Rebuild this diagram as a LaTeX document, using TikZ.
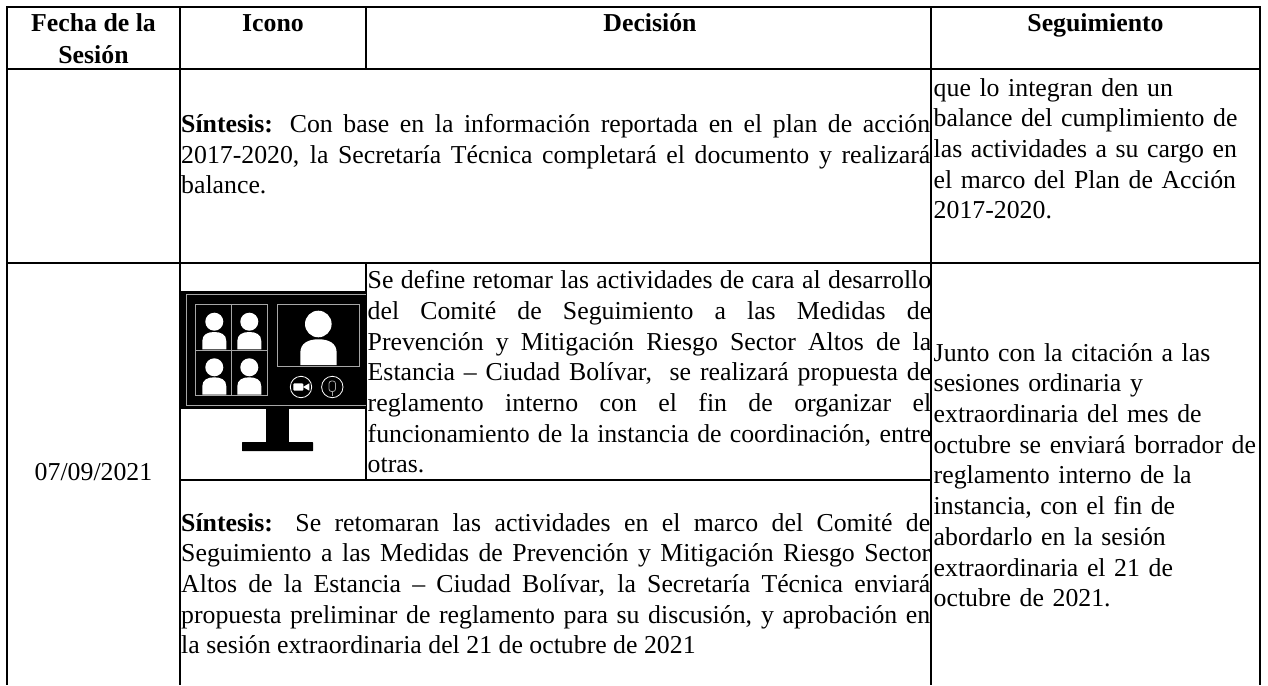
\documentclass[tikz,border=0pt]{standalone}
\usepackage{fontspec}
\setmainfont{Liberation Serif}
\newcommand{\bodyfont}{\fontsize{25.8}{30.7}\selectfont}
\newcommand{\personbody}[4]{% centre x, half width, top y, bottom y
  \fill[white] (#1-#2,#4) -- (#1-#2,#3+#2*.75) .. controls (#1-#2,#3+#2*.2) and (#1-#2*.55,#3) .. (#1,#3) .. controls (#1+#2*.55,#3) and (#1+#2,#3+#2*.2) .. (#1+#2,#3+#2*.75) -- (#1+#2,#4) -- cycle;}
\tikzset{
  grid line/.style={line width=2pt, black},
  para/.style={anchor=north west, inner sep=0pt, font=\bodyfont, align=justify},
  seg/.style={anchor=north west, inner sep=0pt, font=\bodyfont, align=left},
  head/.style={anchor=base, inner sep=0pt, font=\bodyfont\bfseries, align=center},
  scr line/.style={draw=white!65!black, line width=.8pt}
}
\begin{document}
\begin{tikzpicture}[x=1pt,y=-1pt]
\useasboundingbox (0,0) rectangle (1268,685);
% table rules
\draw[grid line] (6,7.5) -- (1261,7.5);
\draw[grid line] (7,69.3) -- (1260,69.3);
\draw[grid line] (7,262.7) -- (1260,262.7);
\draw[grid line] (180,480) -- (931,480);
\draw[grid line] (7,7) -- (7,685);
\draw[grid line] (180,7) -- (180,685);
\draw[grid line] (366,7) -- (366,69);
\draw[grid line] (366,262) -- (366,480);
\draw[grid line] (931,7) -- (931,685);
\draw[grid line] (1260,7) -- (1260,685);
% headers
\node[head] (h1) at (93.5,31.7) {Fecha de la};
\node[head] (h1b) at (93.5,63.3) {Sesión};
\node[head] (h2) at (273,31.7) {Icono};
\node[head] (h3) at (650,31.7) {Decisión};
\node[head] (h4) at (1095.5,31.7) {Seguimiento};
% row 1
\node[para, text width=749pt] (s1) at (181,114) {\textbf{Síntesis:} Con base en la información reportada en el plan de acción\linebreak 2017-2020, la Secretaría Técnica completará el documento y realizará\linebreak balance.};
\node[seg, text width=326pt] (f1) at (933.5,78) {que lo integran den un\\balance del cumplimiento de\\las actividades a su cargo en\\el marco del Plan de Acción\\2017-2020.};
% row 2
\node[anchor=base, inner sep=0pt, font=\bodyfont] (d2) at (93.5,480) {07/09/2021};
\node[para, text width=563.5pt] (t2) at (367.5,270.3) {Se define retomar las actividades de cara al desarrollo\linebreak del Comité de Seguimiento a las Medidas de\linebreak Prevención y Mitigación Riesgo Sector Altos de la\linebreak Estancia – Ciudad Bolívar,\ \ se realizará propuesta de\linebreak reglamento interno con el fin de organizar el\linebreak funcionamiento de la instancia de coordinación, entre\linebreak otras.};
\node[para, text width=749pt] (s2) at (181,513) {\textbf{Síntesis:} Se retomaran las actividades en el marco del Comité de\linebreak Seguimiento a las Medidas de Prevención y Mitigación Riesgo Sector\linebreak Altos de la Estancia – Ciudad Bolívar, la Secretaría Técnica enviará\linebreak propuesta preliminar de reglamento para su discusión, y aprobación en\linebreak la sesión extraordinaria del 21 de octubre de 2021};
\node[seg, text width=326pt] (f2) at (933.5,343) {Junto con la citación a las\\sesiones ordinaria y\\extraordinaria del mes de\\octubre se enviará borrador de\\reglamento interno de la\\instancia, con el fin de\\abordarlo en la sesión\\extraordinaria el 21 de\\octubre de 2021.};
% monitor icon
\fill[black] (181,290.7) rectangle (365.5,408.5);
\fill[black] (266,408) rectangle (289,442);
\fill[black, rounded corners=.5pt] (242,442) rectangle (313,451);
\draw[scr line] (365.5,294) -- (186,294) -- (186,405.7) -- (365.5,405.7);
\draw[scr line] (195.7,304.3) rectangle (267.3,395.7);
\draw[scr line] (231.7,304.3) -- (231.7,395.7) (195.7,350) -- (267.3,350);
\draw[scr line] (277,304.3) rectangle (359.3,366.3);
\foreach \cx/\cy in {214.3/321.7, 249.3/321.7, 214.3/367.3, 249.3/367.3}{
  \fill[white] (\cx,\cy) circle (9);
}
\personbody{214.3}{12}{332}{349.3}
\personbody{249.3}{12}{332}{349.3}
\personbody{214.3}{12}{377.3}{394.7}
\personbody{249.3}{12}{377.3}{394.7}
\fill[white] (318.3,324) circle (13.3);
\personbody{318.5}{18.2}{339.3}{365}
\draw[draw=white, line width=.8pt] (301,387) circle (10.7);
\draw[draw=white, line width=.8pt] (332.3,387) circle (10.7);
\fill[white, rounded corners=1pt] (293.3,383.3) rectangle (303.3,390.7);
\fill[white] (303,387) -- (309.3,383.3) -- (309.3,390.7) -- cycle;
\draw[scr line, rounded corners=2.5pt] (329,381) rectangle (335.5,391.5);
\draw[scr line] (332.3,391.5) -- (332.3,396);
\end{tikzpicture}
\end{document}
